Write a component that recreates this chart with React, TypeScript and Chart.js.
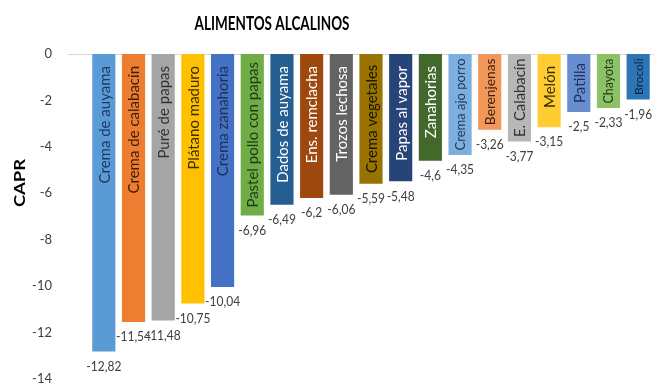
import React, { useEffect, useRef } from "react";
import { Chart, registerables } from "chart.js";
Chart.register(...registerables);

const title = "ALIMENTOS ALCALINOS";
const yTitle = "CAPR";
const categories = [
  "Crema de auyama",
  "Crema de calabacín",
  "Puré de papas",
  "Plátano maduro",
  "Crema zanahoria",
  "Pastel pollo con papas",
  "Dados de auyama",
  "Ens. remclacha",
  "Trozos lechosa",
  "Crema vegetales",
  "Papas al vapor",
  "Zanahorias",
  "Crema ajo porro",
  "Berenjenas",
  "E. Calabacín",
  "Melón",
  "Patilla",
  "Chayota",
  "Brocoli",
];
const values = [
  -12.82, -11.54, -11.48, -10.75, -10.04, -6.96, -6.49, -6.2, -6.06, -5.59,
  -5.48, -4.6, -4.35, -3.26, -3.77, -3.15, -2.5, -2.33, -1.96,
];
const barColors = [
  "#5B9BD5", "#ED7D31", "#A5A5A5", "#FFC000", "#4472C4", "#70AD47",
  "#255E91", "#9E480E", "#636363", "#997300", "#264478", "#43682B",
  "#7CAFDD", "#F1975A", "#B7B7B7", "#FFCD33", "#698ED0", "#8CC168", "#2E75B6",
];
const textColors = [
  "#1F3864", "#3A1F0A", "#333333", "#3A2E00", "#1F2F5A", "#1E3A10",
  "#FFFFFF", "#FFFFFF", "#FFFFFF", "#1A1400", "#FFFFFF", "#FFFFFF",
  "#1F3864", "#3A1F0A", "#333333", "#3A2E00", "#1F2F5A", "#1E3A10", "#0F2540",
];
const yMin = -14;
const yMax = 0;
const yStep = 2;

const FONT = "Lato, 'Liberation Sans', sans-serif";
const W = 654;
const H = 385;

const fmt = (v: number) => String(v).replace(".", ",");

const decoPlugin = {
  id: "deco",
  beforeDatasetsDraw(chart: any) {
    const ctx = chart.ctx;
    const y0 = chart.scales.y.getPixelForValue(0);
    ctx.save();
    ctx.strokeStyle = "#D9D9D9";
    ctx.lineWidth = 1;
    ctx.beginPath();
    ctx.moveTo(68, Math.round(y0) + 0.5);
    ctx.lineTo(chart.width, Math.round(y0) + 0.5);
    ctx.stroke();
    ctx.restore();
  },
  afterDatasetsDraw(chart: any) {
    const ctx = chart.ctx;
    const meta = chart.getDatasetMeta(0);
    ctx.save();
    meta.data.forEach((el: any, i: number) => {
      ctx.save();
      ctx.fillStyle = "#404040";
      ctx.font = `12px ${FONT}`;
      ctx.textAlign = "center";
      ctx.textBaseline = "top";
      ctx.translate(el.x, el.y + 8);
      ctx.scale(1, 1.15);
      ctx.fillText(fmt(values[i]), 0, 0);
      ctx.restore();

      const len = el.y - el.base;
      let size = 15;
      ctx.font = `${size}px ${FONT}`;
      const w0 = ctx.measureText(categories[i]).width;
      const avail = len - 9;
      if (w0 > avail) size = Math.max(8, (size * avail) / w0);
      const w = (w0 * size) / 15;
      const start = Math.min(12, Math.max(4, (len - w) / 2));
      ctx.save();
      ctx.translate(el.x, el.base + start);
      ctx.rotate(-Math.PI / 2);
      ctx.fillStyle = textColors[i];
      ctx.font = `${size}px ${FONT}`;
      ctx.textAlign = "right";
      ctx.textBaseline = "middle";
      ctx.fillText(categories[i], 0, 1);
      ctx.restore();
    });
    ctx.restore();
  },
  afterDraw(chart: any) {
    const ctx = chart.ctx;
    ctx.save();
    ctx.fillStyle = "#000000";
    ctx.font = `bold 14px ${FONT}`;
    ctx.textAlign = "center";
    ctx.textBaseline = "middle";
    const tw = ctx.measureText(title).width;
    ctx.translate(272, 24);
    ctx.scale(155 / tw, 1.3);
    ctx.fillText(title, 0, 0);
    ctx.restore();
    ctx.save();
    ctx.fillStyle = "#000000";
    ctx.textAlign = "center";
    ctx.textBaseline = "middle";
    ctx.translate(20, 183);
    ctx.rotate(-Math.PI / 2);
    ctx.scale(1.15, 1);
    ctx.font = `bold 16px ${FONT}`;
    ctx.fillText(yTitle, 0, 0);
    ctx.restore();
  },
};

export default function App() {
  const ref = useRef<HTMLCanvasElement>(null);
  useEffect(() => {
    document.body.style.margin = "0";
    const chart = new Chart(ref.current!, {
      type: "bar",
      data: {
        labels: categories,
        datasets: [
          {
            data: values,
            backgroundColor: barColors,
            borderWidth: 0,
            barPercentage: 0.78,
            categoryPercentage: 1,
          },
        ],
      },
      options: {
        animation: false,
        responsive: false,
        layout: { padding: { top: 54, bottom: 6, left: 0, right: 1 } },
        plugins: {
          legend: { display: false },
          title: { display: false },
          tooltip: { enabled: false },
        },
        scales: {
          x: { display: false },
          y: {
            min: yMin,
            max: yMax,
            afterFit: (s: any) => {
              s.width = 89;
              s.paddingTop = 6;
              s.paddingBottom = 6;
            },
            grid: { display: false, drawTicks: false, tickLength: 0 },
            border: { display: false },
            ticks: {
              stepSize: yStep,
              padding: 37,
              color: "#404040",
              font: { family: FONT, size: 13 },
              callback: (v: any) => String(v),
            },
          },
        },
      },
      plugins: [decoPlugin],
    });
    return () => chart.destroy();
  }, []);
  return (
    <div style={{ width: W, height: H }}>
      <canvas ref={ref} width={W} height={H} style={{ display: "block" }} />
    </div>
  );
}
